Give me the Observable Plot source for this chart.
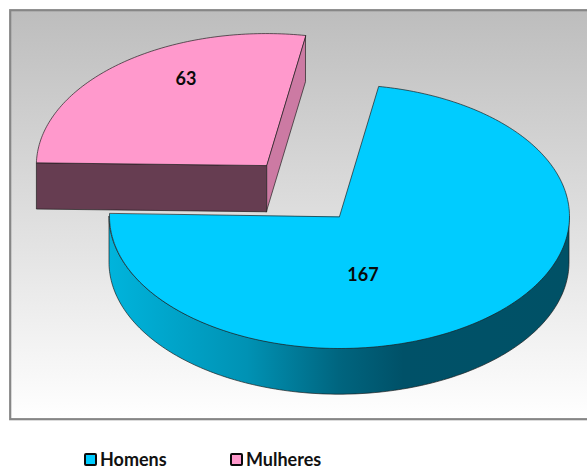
<!DOCTYPE html>
<html>
<head>
<meta charset="utf-8">
<script src="https://cdn.jsdelivr.net/npm/d3@7"></script>
<script src="https://cdn.jsdelivr.net/npm/@observablehq/plot@0.6"></script>
<style>
html,body{margin:0;padding:0;background:#fff;width:587px;height:469px;overflow:hidden}
svg{display:block}
#legend{position:absolute;left:84px;top:449px;display:flex;font:700 18px Lato,sans-serif;color:#111;line-height:20px}
#legend span.item{display:flex;align-items:center;gap:3px;width:146px}
#legend i{display:block;box-sizing:border-box;width:13px;height:13px;border:2.4px solid #0b0b0b;border-radius:2px}
</style>
</head>
<body>
<div id="chart"></div>
<div id="legend"></div>
<script>
const categories = ["Homens", "Mulheres"];
const values = [167, 63];
const topColors = ["#00ccff", "#ff99cc"];
const explode = [0, 0.5];
const labelFactor = [[0.16, 0.575], [0.55, 0.85]];

// pie layout parameters (unit circle, tilted by the scales)
const rotation = 9.8 * Math.PI / 180;
const depth = 0.35;
const cx = 339, cy = 216, rx = 230, ry = 132;
const W = 587, H = 425;
const fLeft = 9.7, fTop = 9.7, fRight = 595, fBottom = 418.7;

const slices = d3.pie().sort(null).startAngle(rotation).endAngle(rotation + 2 * Math.PI)(values)
  .map((s, i) => {
    const mid = (s.startAngle + s.endAngle) / 2;
    return {name: categories[i], value: s.value, color: topColors[i], a0: s.startAngle, a1: s.endAngle, mid,
            ox: explode[i] * Math.sin(mid), oy: explode[i] * Math.cos(mid), lf: labelFactor[i]};
  });

const pt = (s, a, d = 0) => ({x: s.ox + Math.sin(a), y: s.oy + Math.cos(a) - d});
const arcPts = (s, a0, a1, d = 0) => {
  const out = [], n = Math.max(2, Math.ceil((a1 - a0) / (Math.PI / 180)));
  for (let k = 0; k <= n; k++) out.push(pt(s, a0 + (a1 - a0) * k / n, d));
  return out;
};
const topFace = s => [{x: s.ox, y: s.oy}, ...arcPts(s, s.a0, s.a1)];

const [homens, mulheres] = slices;

// blue rim: the front half of the ellipse
const rim = arcPts(homens, Math.PI / 2, Math.min(homens.a1, 3 * Math.PI / 2))
  .map(p => ({x: p.x, y1: p.y, y2: p.y - depth}));
// pink walls: the two radial cuts
const wallQuad = (s, a) => {
  const e = pt(s, a);
  return [{x: s.ox, y: s.oy}, e, {x: e.x, y: e.y - depth}, {x: s.ox, y: s.oy - depth}];
};
const pinkRight = wallQuad(mulheres, mulheres.a1);
const pinkFront = wallQuad(mulheres, mulheres.a0);

const edge = {stroke: "#1c1c1c", strokeWidth: 0.8, strokeOpacity: 0.85};
const poly = (data, fill) => Plot.line(data, {x: "x", y: "y", curve: "linear-closed", fill, ...edge});

const labels = slices.map(s => ({
  x: s.ox + s.lf[0] * Math.sin(s.mid),
  y: s.oy + s.lf[1] * Math.cos(s.mid),
  text: String(s.value)
}));

const plot = Plot.plot({
  width: W, height: H,
  marginLeft: fLeft, marginTop: fTop, marginRight: W - fRight, marginBottom: H - fBottom,
  style: {background: "transparent", overflow: "hidden"},
  x: {axis: null, domain: [(fLeft - cx) / rx, (fRight - cx) / rx], range: [fLeft, fRight]},
  y: {axis: null, domain: [(cy - fTop) / ry, (cy - fBottom) / ry], range: [fTop, fBottom]},
  marks: [
    Plot.frame({fill: "url(#bgGrad)", stroke: "#868686", strokeWidth: 2.2}),
    poly(pinkRight, "#cc7aa3"),
    poly(pinkFront, "#663d51"),
    poly(topFace(mulheres), mulheres.color),
    Plot.areaY(rim, {x: "x", y1: "y1", y2: "y2", fill: "url(#rimGrad)", ...edge}),
    poly(topFace(homens), homens.color),
    Plot.text(labels, {x: "x", y: "y", text: "text", fontSize: 18, fontWeight: 700,
                       fontFamily: "Lato, sans-serif", fill: "#0a0a0a"})
  ]
});

const NS = "http://www.w3.org/2000/svg";
const defs = document.createElementNS(NS, "defs");
defs.innerHTML = `
<linearGradient id="bgGrad" x1="0" y1="0" x2="0" y2="1">
  <stop offset="0" stop-color="#bdbdbd"/><stop offset="1" stop-color="#ffffff"/>
</linearGradient>
<linearGradient id="rimGrad" x1="0" y1="0" x2="1" y2="0">
  <stop offset="0" stop-color="#00b4dc"/>
  <stop offset="0.3" stop-color="#0092b4"/>
  <stop offset="0.5" stop-color="#00657f"/>
  <stop offset="0.64" stop-color="#005168"/>
  <stop offset="1" stop-color="#005166"/>
</linearGradient>`;
plot.insertBefore(defs, plot.firstChild);
document.getElementById("chart").append(plot);

const legend = document.getElementById("legend");
categories.forEach((c, i) => {
  const item = document.createElement("span");
  item.className = "item";
  const sw = document.createElement("i");
  sw.style.background = topColors[i];
  item.append(sw, document.createTextNode(c));
  legend.append(item);
});
</script>
</body>
</html>
